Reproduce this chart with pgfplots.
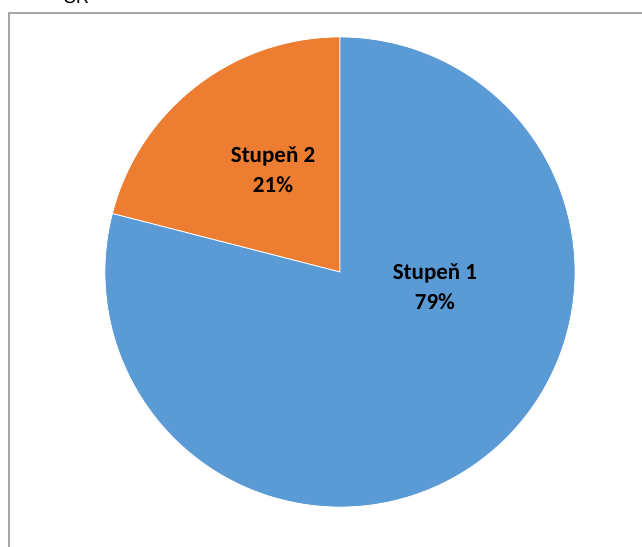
\documentclass[border=0pt]{standalone}
\usepackage{pgfplots}
\pgfplotsset{compat=1.18}
\usepackage{fontspec}
\setmainfont{Carlito}
\newfontfamily\arialfont{Liberation Sans}
\definecolor{sblue}{HTML}{5B9BD5}
\definecolor{sorange}{HTML}{ED7D31}
\definecolor{frame}{HTML}{A6A6A6}
\def\pA{79}
\def\pB{21}
\begin{document}
\begin{tikzpicture}[x=1pt,y=1pt]
\clip (0,0) rectangle (642,546);
\fill[white] (0,0) rectangle (642,546);
\node[anchor=base west,inner sep=0pt,font=\arialfont\fontsize{18}{20}\selectfont] at (63,542) {ČR};
\draw[frame,line width=1.5pt] (9,-10) -- (9,533) -- (660,533);
\begin{axis}[at={(340pt,274pt)},anchor=origin,x=235pt,y=235pt,
  xmin=-1.4,xmax=1.4,ymin=-1.15,ymax=1.15,hide axis,clip=false]
\pgfmathsetmacro{\aEnd}{90+\pB*3.6}
\fill[sorange,draw=white,line width=0.8pt] (axis cs:0,0) -- (axis cs:0,1) arc[start angle=90,end angle=\aEnd,radius=235pt] -- cycle;
\fill[sblue,draw=white,line width=0.8pt] (axis cs:0,0) -- (axis cs:{cos(\aEnd)},{sin(\aEnd)}) arc[start angle=\aEnd,end angle=450,radius=235pt] -- cycle;
\node[font=\bfseries\fontsize{23}{30}\selectfont,align=center] at (axis cs:0.404,-0.064) {Stupeň 1\\79\%};
\node[font=\bfseries\fontsize{23}{30}\selectfont,align=center] at (axis cs:-0.285,0.434) {Stupeň 2\\21\%};
\end{axis}
\end{tikzpicture}
\end{document}
